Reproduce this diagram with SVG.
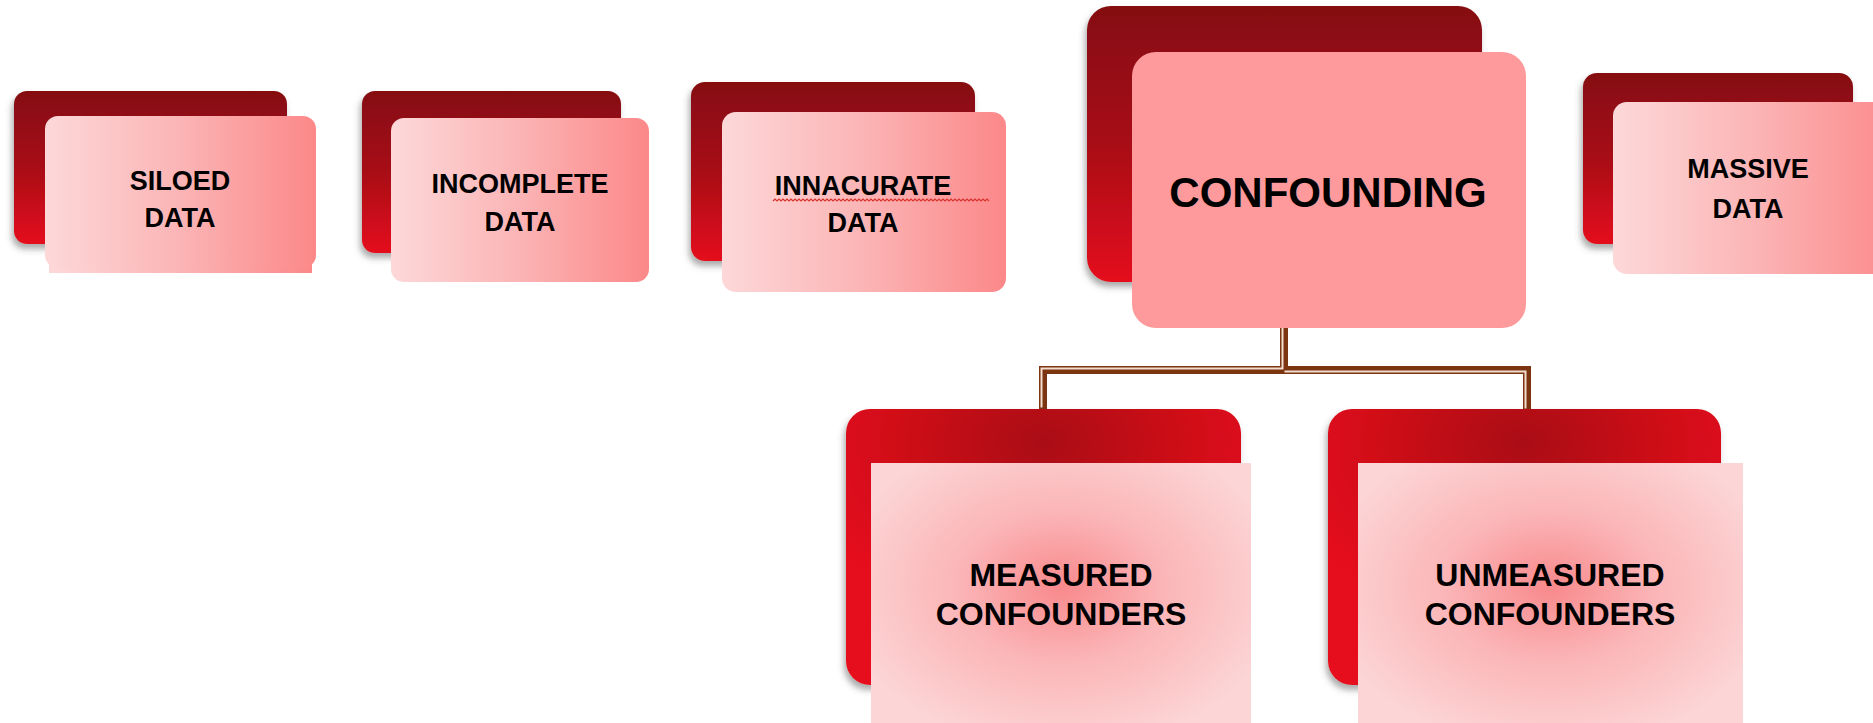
<svg xmlns="http://www.w3.org/2000/svg" width="1873" height="723" viewBox="0 0 1873 723">
<defs>
<linearGradient id="backTop" x1="0" y1="0" x2="0" y2="1">
<stop offset="0" stop-color="#850a11"/>
<stop offset="0.5" stop-color="#a80b16"/>
<stop offset="1" stop-color="#e50f1e"/>
</linearGradient>
<linearGradient id="frontTop" x1="0" y1="0" x2="1" y2="0">
<stop offset="0" stop-color="#fdd8d9"/>
<stop offset="0.5" stop-color="#fbb4b5"/>
<stop offset="1" stop-color="#fc8889"/>
</linearGradient>
<radialGradient id="backBot" cx="0.5" cy="0.12" r="0.65">
<stop offset="0" stop-color="#a90a14"/>
<stop offset="0.6" stop-color="#d20d19"/>
<stop offset="1" stop-color="#e60f1d"/>
</radialGradient>
<radialGradient id="frontBot" cx="0.5" cy="0.45" r="0.6">
<stop offset="0" stop-color="#f8898c"/>
<stop offset="0.45" stop-color="#fbb5b7"/>
<stop offset="1" stop-color="#fcd6d7"/>
</radialGradient>
<filter id="shadow" x="-10%" y="-10%" width="120%" height="125%">
<feDropShadow dx="-2" dy="5" stdDeviation="3" flood-color="#555" flood-opacity="0.5"/>
</filter>
</defs>
<style>
.bt{fill:url(#backTop);filter:url(#shadow)}
.ft{fill:url(#frontTop)}
.bb{fill:url(#backBot);filter:url(#shadow)}
.fb{fill:url(#frontBot)}
.lbl{font-family:"Liberation Sans",Arial,sans-serif;font-weight:bold;fill:#000;text-anchor:middle}
.s{font-size:27px}
.m{font-size:32px}
.l{font-size:42px}
.thick{fill:none;stroke:#7b3510;stroke-width:8;stroke-linejoin:miter}
.thin{fill:none;stroke:#f3ddcf;stroke-width:2}
</style>
<rect width="1873" height="723" fill="#ffffff"/>

<g id="connectors">
<path class="thick" d="M1284,326 V370 H1043 V409"/>
<path class="thick" d="M1284,370 H1527 V409"/>
<path class="thin" transform="translate(-1.5,-1.5)" d="M1284,328 V370 H1043 V409"/>
<path class="thin" transform="translate(-1.5,1.5)" d="M1286,370 H1527 V407"/>
</g>

<g id="siloed">
<rect class="bt" x="14" y="91" width="273" height="153" rx="13"/>
<rect class="ft" x="49" y="250" width="263" height="23"/>
<rect class="ft" x="45" y="116" width="271" height="152" rx="13"/>
<text class="lbl s" x="180" y="190">SILOED</text>
<text class="lbl s" x="180" y="227">DATA</text>
</g>

<g id="incomplete">
<rect class="bt" x="362" y="91" width="259" height="162" rx="13"/>
<rect class="ft" x="391" y="118" width="258" height="164" rx="13"/>
<text class="lbl s" x="520" y="193">INCOMPLETE</text>
<text class="lbl s" x="520" y="231">DATA</text>
</g>

<g id="innacurate">
<rect class="bt" x="691" y="82" width="284" height="179" rx="14"/>
<rect class="ft" x="722" y="112" width="284" height="180" rx="14"/>
<text class="lbl s" x="863" y="195">INNACURATE</text>
<path d="M773,201 l2,-2 l2,2 l2,-2 l2,2 l2,-2 l2,2 l2,-2 l2,2 l2,-2 l2,2 l2,-2 l2,2 l2,-2 l2,2 l2,-2 l2,2 l2,-2 l2,2 l2,-2 l2,2 l2,-2 l2,2 l2,-2 l2,2 l2,-2 l2,2 l2,-2 l2,2 l2,-2 l2,2 l2,-2 l2,2 l2,-2 l2,2 l2,-2 l2,2 l2,-2 l2,2 l2,-2 l2,2 l2,-2 l2,2 l2,-2 l2,2 l2,-2 l2,2 l2,-2 l2,2 l2,-2 l2,2 l2,-2 l2,2 l2,-2 l2,2 l2,-2 l2,2 l2,-2 l2,2 l2,-2 l2,2 l2,-2 l2,2 l2,-2 l2,2 l2,-2 l2,2 l2,-2 l2,2 l2,-2 l2,2 l2,-2 l2,2 l2,-2 l2,2 l2,-2 l2,2 l2,-2 l2,2 l2,-2 l2,2 l2,-2 l2,2 l2,-2 l2,2 l2,-2 l2,2 l2,-2 l2,2 l2,-2 l2,2 l2,-2 l2,2 l2,-2 l2,2 l2,-2 l2,2 l2,-2 l2,2 l2,-2 l2,2 l2,-2 l2,2 l2,-2 l2,2 l2,-2 l2,2 l2,-2 l2,2" fill="none" stroke="#d8342e" stroke-width="1.2"/>
<text class="lbl s" x="863" y="232">DATA</text>
</g>

<g id="confounding">
<rect class="bt" x="1087" y="6" width="395" height="276" rx="24"/>
<rect x="1132" y="52" width="394" height="276" rx="24" fill="#fe9a9b"/>
<text class="lbl l" x="1328" y="207">CONFOUNDING</text>
</g>

<g id="massive">
<rect class="bt" x="1583" y="73" width="270" height="171" rx="14"/>
<rect class="ft" x="1613" y="102" width="290" height="172" rx="14"/>
<text class="lbl s" x="1748" y="178">MASSIVE</text>
<text class="lbl s" x="1748" y="218">DATA</text>
</g>

<g id="measured">
<rect class="bb" x="846" y="409" width="395" height="276" rx="24"/>
<rect class="fb" x="871" y="463" width="380" height="275"/>
<text class="lbl m" x="1061" y="586">MEASURED</text>
<text class="lbl m" x="1061" y="625">CONFOUNDERS</text>
</g>

<g id="unmeasured">
<rect class="bb" x="1328" y="409" width="393" height="276" rx="24"/>
<rect class="fb" x="1358" y="463" width="385" height="275"/>
<text class="lbl m" x="1550" y="586">UNMEASURED</text>
<text class="lbl m" x="1550" y="625">CONFOUNDERS</text>
</g>
</svg>
